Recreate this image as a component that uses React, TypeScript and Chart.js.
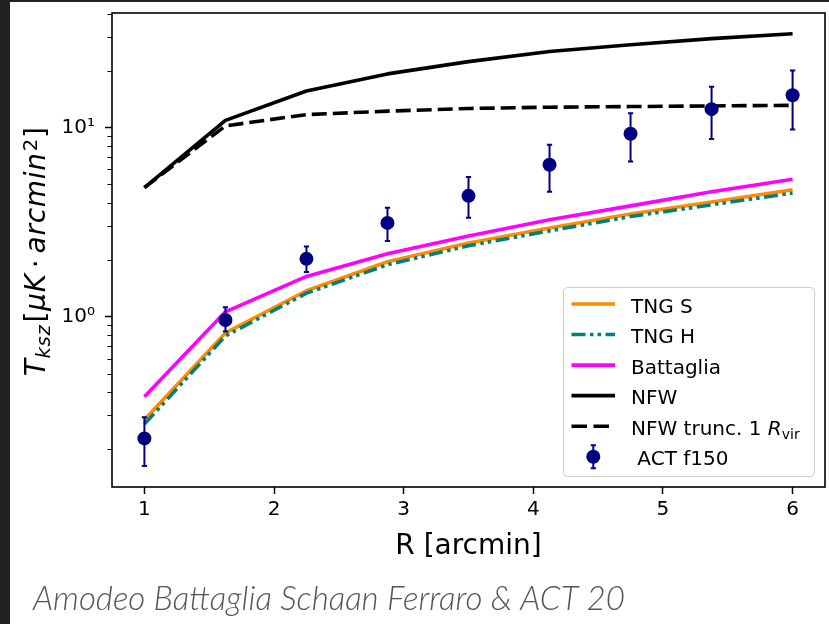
import React, { useEffect, useRef } from 'react';
import { Chart, registerables } from 'chart.js';

Chart.register(...registerables);

const W = 829;
const H = 624;

// ---- data ----
const xs = [1, 1.625, 2.25, 2.875, 3.5, 4.125, 4.75, 5.375, 6];
const tngS = [0.285, 0.82, 1.37, 1.95, 2.45, 2.94, 3.49, 4.04, 4.68];
const tngH = [0.27, 0.79, 1.33, 1.88, 2.37, 2.84, 3.38, 3.9, 4.5];
const battaglia = [0.377, 1.06, 1.63, 2.15, 2.67, 3.25, 3.85, 4.57, 5.33];
const nfw = [4.81, 10.9, 15.6, 19.2, 22.3, 25.2, 27.4, 29.5, 31.3];
const nfwTrunc = [4.81, 10.2, 11.7, 12.2, 12.6, 12.8, 12.9, 13.0, 13.1];
const act = [0.227, 0.96, 2.02, 3.13, 4.35, 6.35, 9.26, 12.5, 14.8];
const actLo = [0.162, 0.833, 1.72, 2.51, 3.33, 4.57, 6.61, 8.68, 9.76];
const actHi = [0.294, 1.12, 2.35, 3.76, 5.48, 8.1, 11.9, 16.4, 20.0];

const xTicks = [1, 2, 3, 4, 5, 6];
const yMajorTicks = [1, 10];
const yTickLabels = ['10\u2070', '10\u00B9'];
const yMinorTicks = [0.2, 0.3, 0.4, 0.5, 0.6, 0.7, 0.8, 0.9, 2, 3, 4, 5, 6, 7, 8, 9, 20, 30, 40];

const xTitle = 'R [arcmin]';
const caption = 'Amodeo Battaglia Schaan Ferraro & ACT 20';
const legendLabels = ['TNG S', 'TNG H', 'Battaglia', 'NFW', 'NFW trunc. 1 ', ' ACT f150'];

const ORANGE = '#FF8C00';
const TEAL = '#008080';
const MAGENTA = '#FF00FF';
const BLACK = '#000000';
const NAVY = '#000080';

const LW = 3.6;
const DASH = [15, 6];
const DASHDOTDOT = [14, 4.5, 3.5, 4, 3.5, 4.5];

const ACT_INDEX = 5;

const FONT = "'DejaVu Sans', sans-serif";

type Run = { t?: string; font?: string; dy?: number; gap?: number };

function countChars(runs: Run[]) {
  let n = 0;
  for (const r of runs) if (r.t) n += Array.from(r.t).length;
  return n;
}

function measureRuns(ctx: CanvasRenderingContext2D, runs: Run[], sp = 0) {
  let w = 0;
  for (const r of runs) {
    if (r.gap) { w += r.gap; continue; }
    ctx.font = r.font!;
    for (const ch of Array.from(r.t!)) w += ctx.measureText(ch).width + sp;
  }
  return w;
}

function drawRuns(ctx: CanvasRenderingContext2D, runs: Run[], x: number, y: number, sp = 0) {
  let cx = x;
  ctx.textBaseline = 'alphabetic';
  ctx.textAlign = 'left';
  for (const r of runs) {
    if (r.gap) { cx += r.gap; continue; }
    ctx.font = r.font!;
    if (sp === 0) {
      ctx.fillText(r.t!, cx, y + (r.dy || 0));
      cx += ctx.measureText(r.t!).width;
    } else {
      for (const ch of Array.from(r.t!)) {
        ctx.fillText(ch, cx, y + (r.dy || 0));
        cx += ctx.measureText(ch).width + sp;
      }
    }
  }
}

const decorPlugin = {
  id: 'decor',
  beforeDatasetDraw(chart: any, args: any) {
    if (args.index !== ACT_INDEX) return;
    const ctx: CanvasRenderingContext2D = chart.ctx;
    const xS = chart.scales.x;
    const yS = chart.scales.y;
    const a = chart.chartArea;
    ctx.save();
    ctx.beginPath();
    ctx.rect(a.left, a.top, a.right - a.left, a.bottom - a.top);
    ctx.clip();
    ctx.strokeStyle = NAVY;
    ctx.lineWidth = 2;
    ctx.lineCap = 'butt';
    for (let i = 0; i < xs.length; i++) {
      const px = xS.getPixelForValue(xs[i]);
      const y1 = yS.getPixelForValue(actLo[i]);
      const y2 = yS.getPixelForValue(actHi[i]);
      ctx.beginPath();
      ctx.moveTo(px, y1);
      ctx.lineTo(px, y2);
      ctx.moveTo(px - 2.6, y1);
      ctx.lineTo(px + 2.6, y1);
      ctx.moveTo(px - 2.6, y2);
      ctx.lineTo(px + 2.6, y2);
      ctx.stroke();
    }
    ctx.restore();
  },
  afterDraw(chart: any) {
    const ctx: CanvasRenderingContext2D = chart.ctx;
    const a = chart.chartArea;
    const yS = chart.scales.y;
    ctx.save();

    // frame bars of the screenshot
    ctx.fillStyle = '#222222';
    ctx.fillRect(0, 0, 10, H);
    ctx.fillRect(0, 0, W, 2);

    // axes box
    ctx.strokeStyle = '#000';
    ctx.lineWidth = 1.6;
    ctx.strokeRect(a.left, a.top, a.right - a.left, a.bottom - a.top);

    // minor y ticks
    ctx.lineWidth = 1.2;
    ctx.beginPath();
    for (const v of yMinorTicks) {
      const py = Math.round(yS.getPixelForValue(v)) + 0.5;
      if (py < a.top - 1 || py > a.bottom + 1) continue;
      ctx.moveTo(a.left - 4.5, py);
      ctx.lineTo(a.left, py);
    }
    ctx.stroke();

    // legend
    const lx = 563.5, ly = 287.5, lw = 251, lh = 189;
    ctx.beginPath();
    const r = 4;
    ctx.moveTo(lx + r, ly);
    ctx.arcTo(lx + lw, ly, lx + lw, ly + lh, r);
    ctx.arcTo(lx + lw, ly + lh, lx, ly + lh, r);
    ctx.arcTo(lx, ly + lh, lx, ly, r);
    ctx.arcTo(lx, ly, lx + lw, ly, r);
    ctx.closePath();
    ctx.fillStyle = 'rgba(255,255,255,0.8)';
    ctx.fill();
    ctx.strokeStyle = '#cccccc';
    ctx.lineWidth = 1;
    ctx.stroke();

    const rowY0 = 304;
    const rowStep = 30.55;
    const hx1 = 571.5, hx2 = 615;
    const tx = 631;
    const styles = [
      { c: ORANGE, d: [] as number[] },
      { c: TEAL, d: DASHDOTDOT },
      { c: MAGENTA, d: [] as number[] },
      { c: BLACK, d: [] as number[] },
      { c: BLACK, d: [15.5, 6.5] },
    ];
    for (let i = 0; i < 6; i++) {
      const ry = rowY0 + i * rowStep;
      if (i < 5) {
        ctx.save();
        ctx.strokeStyle = styles[i].c;
        ctx.lineWidth = LW;
        ctx.lineCap = 'butt';
        ctx.setLineDash(styles[i].d);
        ctx.beginPath();
        ctx.moveTo(hx1, ry);
        ctx.lineTo(hx2, ry);
        ctx.stroke();
        ctx.restore();
      } else {
        const mx = 593.3;
        ctx.strokeStyle = NAVY;
        ctx.lineWidth = 2;
        ctx.beginPath();
        ctx.moveTo(mx, ry - 11.5);
        ctx.lineTo(mx, ry + 11.5);
        ctx.moveTo(mx - 2.6, ry - 11.5);
        ctx.lineTo(mx + 2.6, ry - 11.5);
        ctx.moveTo(mx - 2.6, ry + 11.5);
        ctx.lineTo(mx + 2.6, ry + 11.5);
        ctx.stroke();
        ctx.fillStyle = NAVY;
        ctx.beginPath();
        ctx.arc(mx, ry, 7, 0, Math.PI * 2);
        ctx.fill();
      }
      ctx.fillStyle = '#000';
      if (i === 4) {
        drawRuns(ctx, [
          { t: legendLabels[4], font: `20px ${FONT}` },
          { t: 'R', font: `italic 20px ${FONT}` },
          { t: 'vir', font: `14px ${FONT}`, dy: 4 },
        ], tx, ry + 8.5);
      } else {
        drawRuns(ctx, [{ t: legendLabels[i], font: `20px ${FONT}` }], tx, ry + 8.5);
      }
    }

    // x title
    ctx.fillStyle = '#000';
    ctx.font = `28px ${FONT}`;
    ctx.textAlign = 'center';
    ctx.textBaseline = 'alphabetic';
    ctx.fillText(xTitle, (a.left + a.right) / 2, 553.5);

    // y title (mathtext-like)
    const S = 28;
    const s = S * 0.7;
    const runs: Run[] = [
      { t: 'T', font: `italic ${S}px ${FONT}` },
      { t: 'ksz', font: `italic ${s}px ${FONT}`, dy: 5 },
      { gap: 2 },
      { t: '[', font: `${S}px ${FONT}` },
      { t: '\u03BCK', font: `italic ${S}px ${FONT}` },
      { gap: 5 },
      { t: '\u00B7', font: `${S}px ${FONT}` },
      { gap: 5 },
      { t: 'arcmin', font: `italic ${S}px ${FONT}` },
      { gap: 1 },
      { t: '2', font: `${s}px ${FONT}`, dy: -8.5 },
      { t: ']', font: `${S}px ${FONT}` },
    ];
    const targetLen = 250;
    const tw0 = measureRuns(ctx, runs);
    const sp = Math.max(0, (targetLen - tw0) / countChars(runs));
    const tw = measureRuns(ctx, runs, sp) - sp;
    ctx.save();
    ctx.translate(45, 251.7);
    ctx.rotate(-Math.PI / 2);
    drawRuns(ctx, runs, -tw / 2, 0, sp);
    ctx.restore();

    // caption
    ctx.fillStyle = '#555555';
    let cs = 28;
    ctx.font = `italic 300 ${cs}px Lato, 'Open Sans', sans-serif`;
    const cw = ctx.measureText(caption).width;
    cs = cs * 592 / cw;
    ctx.font = `italic 300 ${cs}px Lato, 'Open Sans', sans-serif`;
    ctx.textAlign = 'left';
    ctx.textBaseline = 'alphabetic';
    ctx.fillText(caption, 33, 609.5);

    ctx.restore();
  },
};

function pts(ys: number[]) {
  return xs.map((x, i) => ({ x, y: ys[i] }));
}

export default function App() {
  const ref = useRef<HTMLCanvasElement | null>(null);

  useEffect(() => {
    const canvas = ref.current;
    if (!canvas) return;
    const lineDs = (label: string, ys: number[], color: string, dash: number[], order: number) => ({
      label,
      data: pts(ys),
      borderColor: color,
      backgroundColor: color,
      borderWidth: LW,
      borderDash: dash,
      borderCapStyle: 'butt' as const,
      borderJoinStyle: 'round' as const,
      pointRadius: 0,
      pointHoverRadius: 0,
      tension: 0,
      fill: false,
      order,
    });
    const chart = new Chart(canvas, {
      type: 'line',
      data: {
        datasets: [
          lineDs('TNG S', tngS, ORANGE, [], 6),
          lineDs('TNG H', tngH, TEAL, DASHDOTDOT, 5),
          lineDs('Battaglia', battaglia, MAGENTA, [], 4),
          lineDs('NFW', nfw, BLACK, [], 3),
          lineDs('NFW trunc', nfwTrunc, BLACK, DASH, 2),
          {
            label: 'ACT f150',
            data: pts(act),
            showLine: false,
            borderColor: NAVY,
            backgroundColor: NAVY,
            pointRadius: 7,
            pointHoverRadius: 7,
            pointBackgroundColor: NAVY,
            pointBorderColor: NAVY,
            pointBorderWidth: 0,
            order: 0,
          } as any,
        ],
      },
      options: {
        animation: false,
        responsive: false,
        devicePixelRatio: 1,
        events: [],
        layout: { autoPadding: false, padding: { left: 0, top: 13, right: 4, bottom: 0 } },
        plugins: {
          legend: { display: false },
          tooltip: { enabled: false },
          title: { display: false },
        },
        scales: {
          x: {
            type: 'linear',
            min: 0.75,
            max: 6.25,
            bounds: 'data',
            afterBuildTicks: (scale: any) => {
              scale.ticks = xTicks.map((v) => ({ value: v }));
            },
            afterFit: (scale: any) => {
              scale.height = H - 487;
              scale.paddingLeft = 0;
              scale.paddingRight = 0;
              scale.paddingTop = 0;
              scale.paddingBottom = 0;
            },
            grid: {
              drawOnChartArea: false,
              drawTicks: true,
              tickLength: 7,
              tickWidth: 1.5,
              tickColor: '#000',
            },
            border: { display: false },
            ticks: {
              color: '#000',
              font: { family: 'DejaVu Sans', size: 20 },
              padding: 4,
              maxRotation: 0,
              autoSkip: false,
              callback: (v: any) => String(v),
            },
          },
          y: {
            type: 'logarithmic',
            min: 0.1256,
            max: 40.3,
            bounds: 'data',
            afterBuildTicks: (scale: any) => {
              scale.ticks = yMajorTicks.map((v) => ({ value: v }));
            },
            afterFit: (scale: any) => {
              scale.width = 112;
              scale.paddingLeft = 0;
              scale.paddingRight = 0;
              scale.paddingTop = 0;
              scale.paddingBottom = 0;
            },
            grid: {
              drawOnChartArea: false,
              drawTicks: true,
              tickLength: 7,
              tickWidth: 1.5,
              tickColor: '#000',
            },
            border: { display: false },
            ticks: {
              color: '#000',
              font: { family: 'DejaVu Sans', size: 20 },
              padding: 10,
              autoSkip: false,
              callback: (_v: any, i: number) => yTickLabels[i],
            },
          },
        },
      },
      plugins: [decorPlugin],
    } as any);
    return () => chart.destroy();
  }, []);

  return (
    <div style={{ position: 'fixed', left: 0, top: 0, width: W, height: H, background: '#fff' }}>
      <canvas ref={ref} width={W} height={H} style={{ display: 'block', width: W, height: H }} />
    </div>
  );
}
